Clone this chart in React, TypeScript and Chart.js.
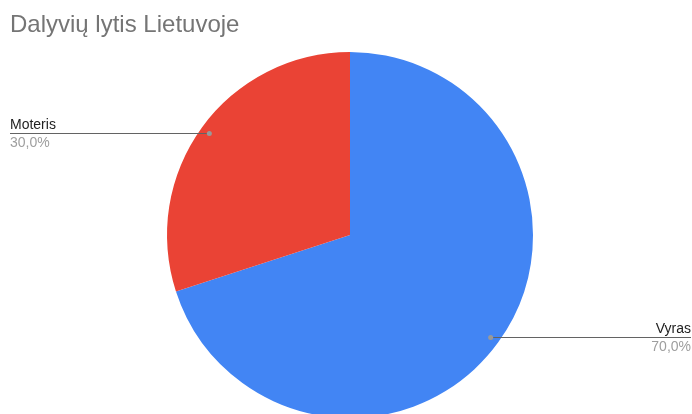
import React, { useEffect, useRef } from "react";
import { Chart, registerables } from "chart.js";

Chart.register(...registerables);

const TITLE = "Dalyvių lytis Lietuvoje";
const categories = ["Vyras", "Moteris"];
const values = [70, 30];
const percentLabels = ["70,0%", "30,0%"];
const colors = ["#4285F4", "#EA4335"];

const FONT = "'Liberation Sans', Arial, sans-serif";

const labelPlugin = {
  id: "googleLabels",
  afterDraw(chart: any) {
    const ctx = chart.ctx as CanvasRenderingContext2D;
    const W = chart.width;
    ctx.save();
    // title
    ctx.font = `24px ${FONT}`;
    ctx.fillStyle = "#757575";
    ctx.textAlign = "left";
    ctx.textBaseline = "alphabetic";
    ctx.fillText(TITLE, 10, 32);

    const meta = chart.getDatasetMeta(0);
    meta.data.forEach((arc: any, i: number) => {
      const mid = (arc.startAngle + arc.endAngle) / 2;
      const r = arc.outerRadius * 0.95;
      const px = arc.x + Math.cos(mid) * r;
      const py = arc.y + Math.sin(mid) * r;
      const left = px < arc.x;
      const endX = left ? 10 : W - 1;
      ctx.strokeStyle = "#636363";
      ctx.lineWidth = 1;
      ctx.beginPath();
      ctx.moveTo(Math.round(px), Math.round(py) + 0.5);
      ctx.lineTo(endX, Math.round(py) + 0.5);
      ctx.stroke();
      ctx.fillStyle = "#999999";
      ctx.beginPath();
      ctx.arc(px, Math.round(py) + 0.5, 2.5, 0, Math.PI * 2);
      ctx.fill();
      ctx.font = `14px ${FONT}`;
      ctx.textAlign = left ? "left" : "right";
      ctx.fillStyle = "#222222";
      ctx.fillText(categories[i], endX, Math.round(py) - 4);
      ctx.fillStyle = "#9e9e9e";
      ctx.fillText(percentLabels[i], endX, Math.round(py) + 14);
    });
    ctx.restore();
  },
};

export default function App() {
  const ref = useRef<HTMLCanvasElement>(null);
  useEffect(() => {
    const chart = new Chart(ref.current!, {
      type: "pie",
      data: {
        labels: categories,
        datasets: [
          {
            data: values,
            backgroundColor: colors,
            borderWidth: 0,
            clip: false,
          } as any,
        ],
      },
      options: {
        responsive: false,
        animation: false,
        radius: 183,
        layout: { padding: { top: 60, bottom: 4, left: 10, right: 2 } },
        plugins: {
          legend: { display: false },
          tooltip: { enabled: false },
          title: { display: false },
        },
      } as any,
      plugins: [labelPlugin],
    });
    return () => chart.destroy();
  }, []);
  return (
    <div style={{ position: "absolute", left: 0, top: 0, width: 692, height: 414, background: "#fff", overflow: "hidden" }}>
      <canvas ref={ref} width={692} height={414} style={{ width: 692, height: 414 }} />
    </div>
  );
}
